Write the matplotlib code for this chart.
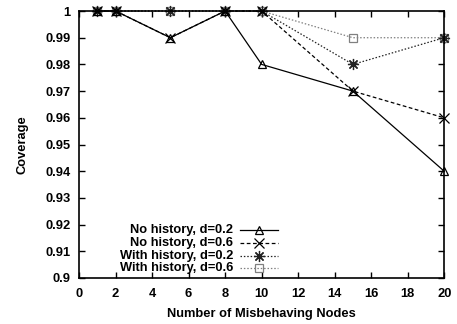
import matplotlib
matplotlib.use("Agg")
import matplotlib.pyplot as plt
from matplotlib.lines import Line2D

plt.rcParams.update(
    {
        "font.family": ["Liberation Sans", "DejaVu Sans"],
        "font.size": 9.3,
        "font.weight": "bold",
        "axes.labelweight": "bold",
        "axes.linewidth": 1.2,
        "xtick.direction": "in",
        "ytick.direction": "in",
        "xtick.top": True,
        "ytick.right": True,
        "xtick.major.size": 4,
        "ytick.major.size": 4,
    }
)

nodes = [1, 2, 5, 8, 10, 15, 20]
no_hist_02 = [1.0, 1.0, 0.99, 1.0, 0.98, 0.97, 0.94]
no_hist_06 = [1.0, 1.0, 0.99, 1.0, 1.0, 0.97, 0.96]
with_hist_02 = [1.0, 1.0, 1.0, 1.0, 1.0, 0.98, 0.99]
with_hist_06 = [1.0, 1.0, 1.0, 1.0, 1.0, 0.99, 0.99]

labels = [
    "No history, d=0.2",
    "No history, d=0.6",
    "With history, d=0.2",
    "With history, d=0.6",
]

# asterisk: plus and cross overlaid, like gnuplot point type 3
ASTERISK = (8, 2, 0)

styles = [
    dict(color="black", linestyle="-", marker="^", ms=6),
    dict(color="black", linestyle=(0, (3, 2)), marker="x", ms=7),
    dict(color="#222222", linestyle=(0, (1.2, 1.5)), marker=ASTERISK, ms=8),
    dict(color="#808080", linestyle=(0, (1.2, 1.5)), marker="s", ms=6),
]

series = [no_hist_02, no_hist_06, with_hist_02, with_hist_06]

fig = plt.figure(figsize=(4.57, 3.24), dpi=100)
ax = fig.add_axes([0.173, 0.142, 0.799, 0.824])

# draw the lighter series first so the dark ones sit on top
for vals, st in reversed(list(zip(series, styles))):
    ax.plot(
        nodes,
        vals,
        color=st["color"],
        linestyle=st["linestyle"],
        linewidth=0.9,
        marker=st["marker"],
        markersize=st["ms"],
        markerfacecolor="none",
        markeredgecolor=st["color"],
        markeredgewidth=0.9,
        clip_on=False,
    )

ax.set_xlim(0, 20)
ax.set_ylim(0.9, 1.0)
ax.set_xticks(range(0, 21, 2))
ax.set_yticks([0.9 + 0.01 * i for i in range(11)])
ax.set_yticklabels(["0.9", "0.91", "0.92", "0.93", "0.94", "0.95",
                    "0.96", "0.97", "0.98", "0.99", "1"])
ax.set_xlabel("Number of Misbehaving Nodes", labelpad=6)
ax.set_ylabel("Coverage", labelpad=12)
ax.tick_params(axis="x", pad=7, width=1)
ax.tick_params(axis="y", pad=6, width=1)

# gnuplot-style key: right-aligned text, sample line to its right
rows_y = [0.180, 0.131, 0.082, 0.037]
for lab, st, yy in zip(labels, styles, rows_y):
    ax.text(0.422, yy, lab, transform=ax.transAxes, ha="right", va="center",
            fontweight="bold")
    ax.add_line(Line2D([0.441, 0.545], [yy, yy], transform=ax.transAxes,
                       color=st["color"], linestyle=st["linestyle"],
                       linewidth=0.9))
    ax.add_line(Line2D([0.493], [yy], transform=ax.transAxes,
                       color=st["color"], linestyle="none",
                       marker=st["marker"], markersize=st["ms"],
                       markerfacecolor="none", markeredgecolor=st["color"],
                       markeredgewidth=0.9))

fig.savefig("out.png", dpi=100)
